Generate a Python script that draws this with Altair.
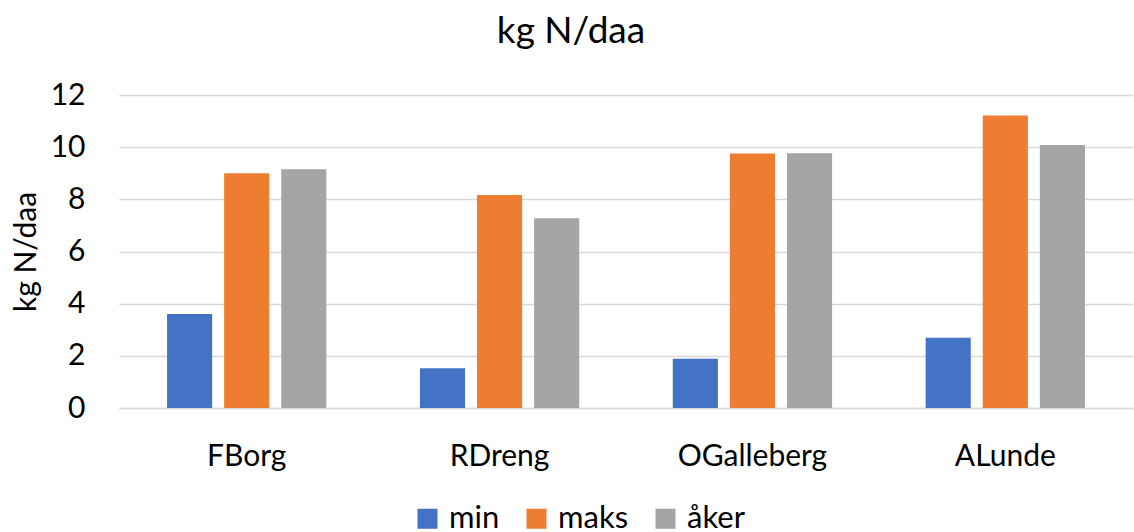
import altair as alt
import pandas as pd

# Nitrogen surplus per farm, kg N per decare
sites = ["FBorg", "RDreng", "OGalleberg", "ALunde"]
series = ["min", "maks", "åker"]
min_vals = [3.6, 1.52, 1.89, 2.69]
maks_vals = [9.0, 8.17, 9.76, 11.21]
aker_vals = [9.15, 7.27, 9.77, 10.08]
colors = ["#4472C4", "#ED7D31", "#A5A5A5"]
y_ticks = [0, 2, 4, 6, 8, 10, 12]

rows = []
for name, vals in zip(series, [min_vals, maks_vals, aker_vals]):
    for site, v in zip(sites, vals):
        rows.append({"site": site, "serie": name, "value": v})
df = pd.DataFrame(rows)

FONT = "Lato"
GRID = "#D9D9D9"

chart = (
    alt.Chart(df)
    .mark_bar()
    .encode(
        x=alt.X(
            "site:N",
            sort=sites,
            scale=alt.Scale(paddingInner=0.37, paddingOuter=0.19),
            axis=alt.Axis(
                title=None,
                labelAngle=0,
                grid=False,
                ticks=False,
                domain=True,
                domainColor=GRID,
                domainWidth=1.5,
                labelFont=FONT,
                labelFontSize=30,
                labelColor="#000000",
                labelPadding=33,
            ),
        ),
        xOffset=alt.XOffset(
            "serie:N",
            sort=series,
            scale=alt.Scale(paddingInner=0.21, paddingOuter=0),
        ),
        y=alt.Y(
            "value:Q",
            scale=alt.Scale(domain=[0, 12], nice=False),
            axis=alt.Axis(
                title="kg N/daa",
                values=y_ticks,
                grid=True,
                gridColor=GRID,
                gridWidth=1.5,
                domain=False,
                ticks=False,
                labelFont=FONT,
                labelFontSize=30,
                labelColor="#000000",
                labelPadding=34,
                titleFont=FONT,
                titleFontSize=30,
                titleFontWeight="normal",
                titleColor="#000000",
                titlePadding=9,
            ),
        ),
        color=alt.Color(
            "serie:N",
            sort=series,
            scale=alt.Scale(domain=series, range=colors),
            legend=alt.Legend(
                title=None,
                orient="none",
                direction="horizontal",
                legendX=293,
                legendY=408,
                symbolType="square",
                symbolSize=400,
                symbolStrokeWidth=0,
                labelFont=FONT,
                labelFontSize=31,
                labelColor="#000000",
                labelOffset=6,
                columnPadding=21,
            ),
        ),
    )
    .properties(
        width=1014,
        height=313,
        autosize=alt.AutoSizeParams(type="none"),
        padding={"left": 119, "top": 95, "right": 1, "bottom": 124},
        title=alt.TitleParams(
            "kg N/daa",
            font=FONT,
            fontSize=37,
            fontWeight="normal",
            color="#000000",
            anchor="middle",
            dx=-55,
            baseline="alphabetic",
            offset=0,
        ),
    )
    .configure_view(strokeWidth=0)
)

chart.save("out.html", embed_options={"renderer": "svg", "actions": False})
